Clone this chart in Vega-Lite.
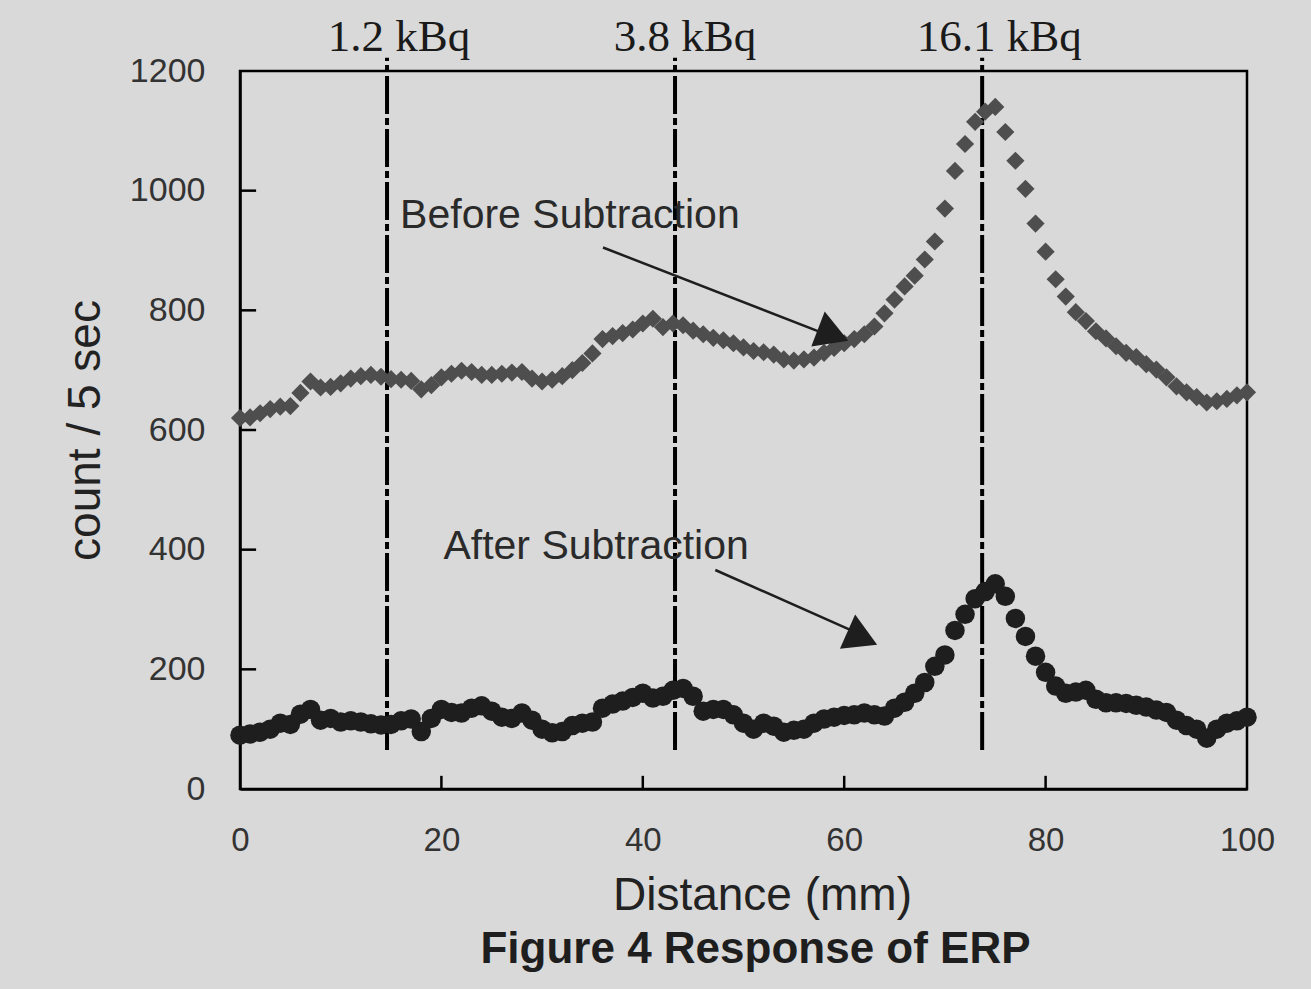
{
  "$schema": "https://vega.github.io/schema/vega-lite/v6.json",
  "autosize": "none",
  "width": 1007,
  "height": 718,
  "padding": {"left": 240, "top": 71, "right": 64, "bottom": 200},
  "background": "#d9d9d9",
  "config": {
    "view": {"stroke": "black", "strokeWidth": 2.5},
    "font": "Liberation Sans"
  },
  "title": {
    "text": "Figure 4 Response of ERP",
    "orient": "bottom",
    "anchor": "middle",
    "frame": "group",
    "fontSize": 44,
    "fontWeight": "bold",
    "font": "Liberation Sans",
    "color": "#1e1e1e",
    "offset": 10,
    "dx": 12
  },
  "datasets": {
    "before": [
      {"x":0,"y":620},{"x":1,"y":621},{"x":2,"y":628},{"x":3,"y":635},{"x":4,"y":639},{"x":5,"y":640},
      {"x":6,"y":662},{"x":7,"y":681},{"x":8,"y":671},{"x":9,"y":672},{"x":10,"y":678},{"x":11,"y":686},
      {"x":12,"y":690},{"x":13,"y":692},{"x":14,"y":689},{"x":15,"y":685},{"x":16,"y":684},{"x":17,"y":682},
      {"x":18,"y":668},{"x":19,"y":675},{"x":20,"y":688},{"x":21,"y":694},{"x":22,"y":699},{"x":23,"y":697},
      {"x":24,"y":692},{"x":25,"y":692},{"x":26,"y":694},{"x":27,"y":696},{"x":28,"y":697},{"x":29,"y":686},
      {"x":30,"y":681},{"x":31,"y":684},{"x":32,"y":690},{"x":33,"y":700},{"x":34,"y":712},{"x":35,"y":728},
      {"x":36,"y":752},{"x":37,"y":757},{"x":38,"y":762},{"x":39,"y":768},{"x":40,"y":778},{"x":41,"y":786},
      {"x":42,"y":772},{"x":43,"y":778},{"x":44,"y":775},{"x":45,"y":766},{"x":46,"y":760},{"x":47,"y":754},
      {"x":48,"y":750},{"x":49,"y":745},{"x":50,"y":738},{"x":51,"y":732},{"x":52,"y":730},{"x":53,"y":726},
      {"x":54,"y":718},{"x":55,"y":716},{"x":56,"y":718},{"x":57,"y":721},{"x":58,"y":729},{"x":59,"y":737},
      {"x":60,"y":745},{"x":61,"y":752},{"x":62,"y":760},{"x":63,"y":773},{"x":64,"y":795},{"x":65,"y":818},
      {"x":66,"y":840},{"x":67,"y":858},{"x":68,"y":885},{"x":69,"y":915},{"x":70,"y":970},{"x":71,"y":1033},
      {"x":72,"y":1078},{"x":73,"y":1115},{"x":74,"y":1132},{"x":75,"y":1140},{"x":76,"y":1098},{"x":77,"y":1050},
      {"x":78,"y":1003},{"x":79,"y":945},{"x":80,"y":898},{"x":81,"y":852},{"x":82,"y":823},{"x":83,"y":797},
      {"x":84,"y":782},{"x":85,"y":765},{"x":86,"y":753},{"x":87,"y":740},{"x":88,"y":729},{"x":89,"y":722},
      {"x":90,"y":710},{"x":91,"y":701},{"x":92,"y":688},{"x":93,"y":673},{"x":94,"y":663},{"x":95,"y":655},
      {"x":96,"y":646},{"x":97,"y":648},{"x":98,"y":652},{"x":99,"y":658},{"x":100,"y":663}
    ],
    "after": [
      {"x":0,"y":90},{"x":1,"y":92},{"x":2,"y":95},{"x":3,"y":100},{"x":4,"y":110},{"x":5,"y":108},
      {"x":6,"y":125},{"x":7,"y":133},{"x":8,"y":115},{"x":9,"y":118},{"x":10,"y":112},{"x":11,"y":114},
      {"x":12,"y":112},{"x":13,"y":109},{"x":14,"y":107},{"x":15,"y":108},{"x":16,"y":114},{"x":17,"y":117},
      {"x":18,"y":96},{"x":19,"y":118},{"x":20,"y":133},{"x":21,"y":128},{"x":22,"y":127},{"x":23,"y":135},
      {"x":24,"y":139},{"x":25,"y":130},{"x":26,"y":120},{"x":27,"y":118},{"x":28,"y":127},{"x":29,"y":115},
      {"x":30,"y":100},{"x":31,"y":94},{"x":32,"y":96},{"x":33,"y":106},{"x":34,"y":110},{"x":35,"y":112},
      {"x":36,"y":135},{"x":37,"y":142},{"x":38,"y":147},{"x":39,"y":153},{"x":40,"y":160},{"x":41,"y":152},
      {"x":42,"y":155},{"x":43,"y":165},{"x":44,"y":168},{"x":45,"y":155},{"x":46,"y":130},{"x":47,"y":133},
      {"x":48,"y":133},{"x":49,"y":124},{"x":50,"y":110},{"x":51,"y":100},{"x":52,"y":110},{"x":53,"y":105},
      {"x":54,"y":95},{"x":55,"y":98},{"x":56,"y":100},{"x":57,"y":110},{"x":58,"y":117},{"x":59,"y":120},
      {"x":60,"y":123},{"x":61,"y":124},{"x":62,"y":127},{"x":63,"y":124},{"x":64,"y":122},{"x":65,"y":135},
      {"x":66,"y":145},{"x":67,"y":160},{"x":68,"y":178},{"x":69,"y":205},{"x":70,"y":224},{"x":71,"y":265},
      {"x":72,"y":292},{"x":73,"y":318},{"x":74,"y":330},{"x":75,"y":343},{"x":76,"y":322},{"x":77,"y":285},
      {"x":78,"y":255},{"x":79,"y":222},{"x":80,"y":195},{"x":81,"y":172},{"x":82,"y":160},{"x":83,"y":162},
      {"x":84,"y":165},{"x":85,"y":150},{"x":86,"y":144},{"x":87,"y":144},{"x":88,"y":143},{"x":89,"y":140},
      {"x":90,"y":137},{"x":91,"y":132},{"x":92,"y":128},{"x":93,"y":115},{"x":94,"y":106},{"x":95,"y":100},
      {"x":96,"y":85},{"x":97,"y":100},{"x":98,"y":110},{"x":99,"y":114},{"x":100,"y":120}
    ],
    "markers": [
      {"x":14.6,"y":65,"y2":1222},
      {"x":43.2,"y":65,"y2":1222},
      {"x":73.7,"y":65,"y2":1222}
    ],
    "markerLabels": [
      {"x":15.8,"y":1257,"label":"1.2 kBq"},
      {"x":44.2,"y":1257,"label":"3.8 kBq"},
      {"x":75.4,"y":1257,"label":"16.1 kBq"}
    ],
    "xTicks": [
      {"x":20,"y":0,"y2":22},{"x":40,"y":0,"y2":22},{"x":60,"y":0,"y2":22},{"x":80,"y":0,"y2":22}
    ],
    "yTicks": [
      {"x":0,"x2":1.6,"y":200},{"x":0,"x2":1.6,"y":400},{"x":0,"x2":1.6,"y":600},{"x":0,"x2":1.6,"y":800},{"x":0,"x2":1.6,"y":1000}
    ],
    "arrows": [
      {"x":36.05,"y":905,"x2":57.9,"y2":762},
      {"x":47.2,"y":366,"x2":60.6,"y2":266}
    ],
    "heads": [
      {"x":58.9,"y":759,"angle":21},
      {"x":61.8,"y":252,"angle":24}
    ],
    "notes": [
      {"x":15.9,"y":957,"label":"Before Subtraction"},
      {"x":20.2,"y":405,"label":"After Subtraction"}
    ]
  },
  "encoding": {
    "x": {
      "field": "x",
      "type": "quantitative",
      "scale": {"domain": [0, 100], "nice": false, "zero": false},
      "axis": {
        "values": [0, 20, 40, 60, 80, 100],
        "title": "Distance (mm)",
        "grid": false,
        "ticks": false,
        "domainColor": "black",
        "domainWidth": 2.5,
        "labelFontSize": 33,
        "labelFont": "Liberation Sans",
        "labelColor": "#333333",
        "labelPadding": 35,
        "labelFlush": false,
        "labelOverlap": false,
        "titleFontSize": 46,
        "titleFont": "Liberation Sans",
        "titleFontWeight": "normal",
        "titleColor": "#222222",
        "titleX": 522,
        "titleY": 106,
        "titleBaseline": "middle",
        "titleAlign": "center"
      }
    },
    "y": {
      "field": "y",
      "type": "quantitative",
      "scale": {"domain": [0, 1200], "nice": false, "zero": false},
      "axis": {
        "values": [0, 200, 400, 600, 800, 1000, 1200],
        "format": "d",
        "title": "count / 5 sec",
        "grid": false,
        "ticks": false,
        "domainColor": "black",
        "domainWidth": 2.5,
        "labelFontSize": 34,
        "labelFont": "Liberation Sans",
        "labelColor": "#333333",
        "labelPadding": 35,
        "labelFlush": false,
        "labelOverlap": false,
        "titleFontSize": 46,
        "titleFont": "Liberation Sans",
        "titleFontWeight": "normal",
        "titleColor": "#222222",
        "titleAngle": -90,
        "titleX": -155,
        "titleY": 359,
        "titleAlign": "center",
        "titleBaseline": "middle"
      }
    }
  },
  "layer": [
    {
      "data": {"name": "xTicks"},
      "mark": {"type": "rule", "color": "black", "strokeWidth": 2.5},
      "encoding": {"y2": {"field": "y2"}}
    },
    {
      "data": {"name": "yTicks"},
      "mark": {"type": "rule", "color": "black", "strokeWidth": 2.5},
      "encoding": {"x2": {"field": "x2"}}
    },
    {
      "data": {"name": "markers"},
      "mark": {"type": "rule", "color": "black", "strokeWidth": 4, "strokeDash": [38, 4, 7, 4], "clip": false},
      "encoding": {"y2": {"field": "y2"}}
    },
    {
      "data": {"name": "markerLabels"},
      "mark": {"type": "text", "font": "Liberation Serif", "fontSize": 45, "color": "#1a1a1a", "baseline": "middle", "align": "center"},
      "encoding": {"text": {"field": "label"}}
    },
    {
      "data": {"name": "before"},
      "mark": {"type": "point", "shape": "diamond", "filled": true, "size": 330, "color": "#4e4e4e", "opacity": 1}
    },
    {
      "data": {"name": "after"},
      "mark": {"type": "point", "shape": "circle", "filled": true, "size": 380, "color": "#1e1e1e", "opacity": 1}
    },
    {
      "data": {"name": "arrows"},
      "mark": {"type": "rule", "color": "#1e1e1e", "strokeWidth": 2.5},
      "encoding": {"x2": {"field": "x2"}, "y2": {"field": "y2"}}
    },
    {
      "data": {"name": "heads"},
      "mark": {"type": "point", "shape": "triangle-right", "filled": true, "size": 1400, "color": "#1e1e1e", "opacity": 1},
      "encoding": {"angle": {"field": "angle", "type": "quantitative", "scale": null}}
    },
    {
      "data": {"name": "notes"},
      "mark": {"type": "text", "font": "Liberation Sans", "fontSize": 41, "color": "#2a2a2a", "baseline": "middle", "align": "left"},
      "encoding": {"text": {"field": "label"}}
    }
  ]
}
